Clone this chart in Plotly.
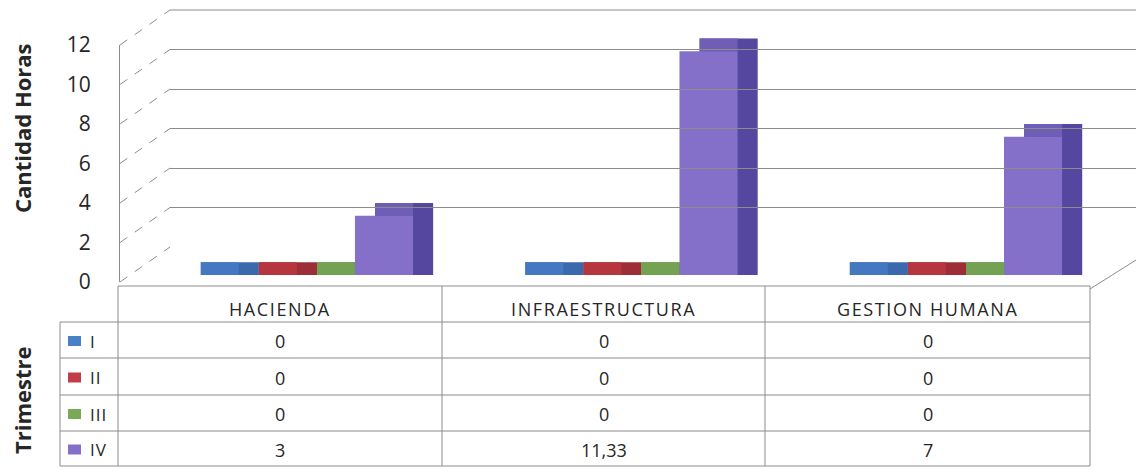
import plotly.graph_objects as go

# ---------------- data ----------------
categories = ["HACIENDA", "INFRAESTRUCTURA", "GESTION HUMANA"]
series_names = ["I", "II", "III", "IV"]
values_I = [0, 0, 0]
values_II = [0, 0, 0]
values_III = [0, 0, 0]
values_IV = [3, 11.33, 7]
y_ticks = [0, 2, 4, 6, 8, 10, 12]
y_title = "Cantidad Horas"
table_title = "Trimestre"

series = [values_I, values_II, values_III, values_IV]

# ---------------- styles ----------------
W, H = 1144, 470
OFF = 8  # page offset of the figure in the browser
FONT = "Open Sans"
front_colors = ["#4A80C8", "#C23B48", "#7AAA58", "#8470C8"]
top_colors = ["#4479C2", "#B6363F", "#72A252", "#6E5EB6"]
side_colors = ["#3A69AE", "#9C2E38", "#5E8E44", "#5546A0"]
grid_color = "#8c8c8c"
text_color = "#262626"


def px_x(x):
    return (x - OFF) / W


def px_y(y):
    return 1 - (y - OFF) / H


def fmt(v):
    return f"{v:g}".replace(".", ",")


def spaced(t, s):
    return f"<span style='letter-spacing:{s}px'>{t}</span>"


bar_w = 0.179
group_left = -2 * bar_w
dx = 0.062
depth = 0.65

fig = go.Figure()

fig.add_trace(go.Scatter(x=[], y=[], xaxis="x2", yaxis="y2", showlegend=False, hoverinfo="skip"))
fig.add_trace(go.Scatter(x=[], y=[], xaxis="x3", yaxis="y3", showlegend=False, hoverinfo="skip"))

# side faces (behind)
for i, (name, vals) in enumerate(zip(series_names, series)):
    fig.add_trace(go.Bar(
        x=categories, y=[v + depth for v in vals], base=0,
        offset=group_left + i * bar_w + dx, width=bar_w,
        marker=dict(color=side_colors[i], line=dict(width=0)),
        showlegend=False, hoverinfo="skip"))
# top faces
for i, (name, vals) in enumerate(zip(series_names, series)):
    fig.add_trace(go.Bar(
        x=categories, y=[depth] * len(vals), base=vals,
        offset=group_left + i * bar_w + dx, width=bar_w - dx,
        marker=dict(color=top_colors[i], line=dict(width=0)),
        showlegend=False, hoverinfo="skip"))
# front faces
for i, (name, vals) in enumerate(zip(series_names, series)):
    fig.add_trace(go.Bar(
        x=categories, y=vals, name=name,
        offset=group_left + i * bar_w, width=bar_w,
        marker=dict(color=front_colors[i], line=dict(width=0)),
        showlegend=False))

shapes = []
line_style = dict(color=grid_color, width=1)

unit = 237 / 12
for v in y_ticks:
    shapes.append(dict(type="line", xref="paper", yref="paper",
                       x0=px_x(120), y0=px_y(282 - unit * v),
                       x1=px_x(170), y1=px_y(247 - unit * v),
                       line=dict(color=grid_color, width=1, dash="dash")))
# back wall top edge
shapes.append(dict(type="line", xref="paper", yref="paper",
                   x0=px_x(170), y0=px_y(247 - unit * 12), x1=1, y1=px_y(247 - unit * 12),
                   line=line_style))
# floor right edge
shapes.append(dict(type="line", xref="paper", yref="paper",
                   x0=px_x(1090), y0=px_y(289), x1=px_x(1144), y1=px_y(255),
                   line=line_style))

col_edges = [118, 442, 765, 1090]
row_edges = [322, 358, 395, 431, 466]
top = 286
shapes.append(dict(type="line", xref="paper", yref="paper",
                   x0=px_x(118), y0=px_y(top), x1=px_x(1090), y1=px_y(top), line=line_style))
for ry in row_edges:
    shapes.append(dict(type="line", xref="paper", yref="paper",
                       x0=px_x(60), y0=px_y(ry), x1=px_x(1090), y1=px_y(ry), line=line_style))
shapes.append(dict(type="line", xref="paper", yref="paper",
                   x0=px_x(60), y0=px_y(322), x1=px_x(60), y1=px_y(466), line=line_style))
for cx in col_edges:
    shapes.append(dict(type="line", xref="paper", yref="paper",
                       x0=px_x(cx), y0=px_y(top), x1=px_x(cx), y1=px_y(466), line=line_style))

annotations = []
for j, cat in enumerate(categories):
    cxm = (col_edges[j] + col_edges[j + 1]) / 2
    annotations.append(dict(x=px_x(cxm), y=px_y(309), xref="paper", yref="paper",
                            text=spaced(cat, 1.6), showarrow=False, xanchor="center", yanchor="middle",
                            font=dict(family=FONT, size=18, color=text_color)))
for i, (name, vals) in enumerate(zip(series_names, series)):
    ry = (row_edges[i] + row_edges[i + 1]) / 2 + 1
    # legend key
    shapes.append(dict(type="rect", xref="paper", yref="paper",
                       x0=px_x(68), x1=px_x(81), y0=px_y(ry - 5), y1=px_y(ry + 5),
                       fillcolor=front_colors[i], line=dict(width=0)))
    annotations.append(dict(x=px_x(88), y=px_y(ry), xref="paper", yref="paper",
                            text=spaced(name, 1), showarrow=False, xanchor="left", yanchor="middle",
                            font=dict(family=FONT, size=17, color=text_color)))
    for j, v in enumerate(vals):
        cxm = (col_edges[j] + col_edges[j + 1]) / 2
        annotations.append(dict(x=px_x(cxm), y=px_y(ry), xref="paper", yref="paper",
                                text=fmt(v), showarrow=False, xanchor="center", yanchor="middle",
                                font=dict(family=FONT, size=18, color=text_color)))

annotations.append(dict(x=px_x(22), y=px_y(128), xref="paper", yref="paper", text=f"<b>{y_title}</b>",
                        textangle=-90, showarrow=False, xanchor="center", yanchor="middle",
                        font=dict(family=FONT, size=22, color=text_color)))
annotations.append(dict(x=px_x(22), y=px_y(400), xref="paper", yref="paper", text=f"<b>{table_title}</b>",
                        textangle=-90, showarrow=False, xanchor="center", yanchor="middle",
                        font=dict(family=FONT, size=22, color=text_color)))

hidden = dict(showgrid=False, showticklabels=False, showline=False, zeroline=False, ticks="")

fig.update_layout(
    width=W, height=H,
    margin=dict(l=0, r=0, t=0, b=0, autoexpand=False),
    paper_bgcolor="white", plot_bgcolor="rgba(0,0,0,0)",
    barmode="overlay",
    font=dict(family=FONT, color=text_color),
    xaxis=dict(domain=[px_x(120), px_x(1090)], range=[-0.545, 2.444], anchor="y", **hidden),
    yaxis=dict(domain=[px_y(275), px_y(275 - unit * 12)], range=[0, 12], anchor="x", **hidden),
    xaxis2=dict(domain=[px_x(170), 1.0], range=[0, 1], anchor="y2", **hidden),
    yaxis2=dict(domain=[px_y(247), px_y(247 - unit * 12)], range=[0, 12], anchor="x2",
                tickvals=y_ticks, showgrid=True, gridcolor=grid_color, gridwidth=1,
                showticklabels=False, showline=False, zeroline=False, ticks=""),
    xaxis3=dict(domain=[px_x(120), px_x(1090)], range=[0, 1], anchor="y3", **hidden),
    yaxis3=dict(domain=[px_y(282), px_y(45)], range=[0, 12], anchor="x3", tickvals=y_ticks,
                showgrid=False, zeroline=False, showline=True, linecolor=grid_color, linewidth=1,
                ticks="", ticklabelstandoff=24,
                tickfont=dict(family=FONT, size=21, color=text_color)),
    shapes=shapes,
    annotations=annotations,
    showlegend=False,
)

fig.write_html("out.html")
